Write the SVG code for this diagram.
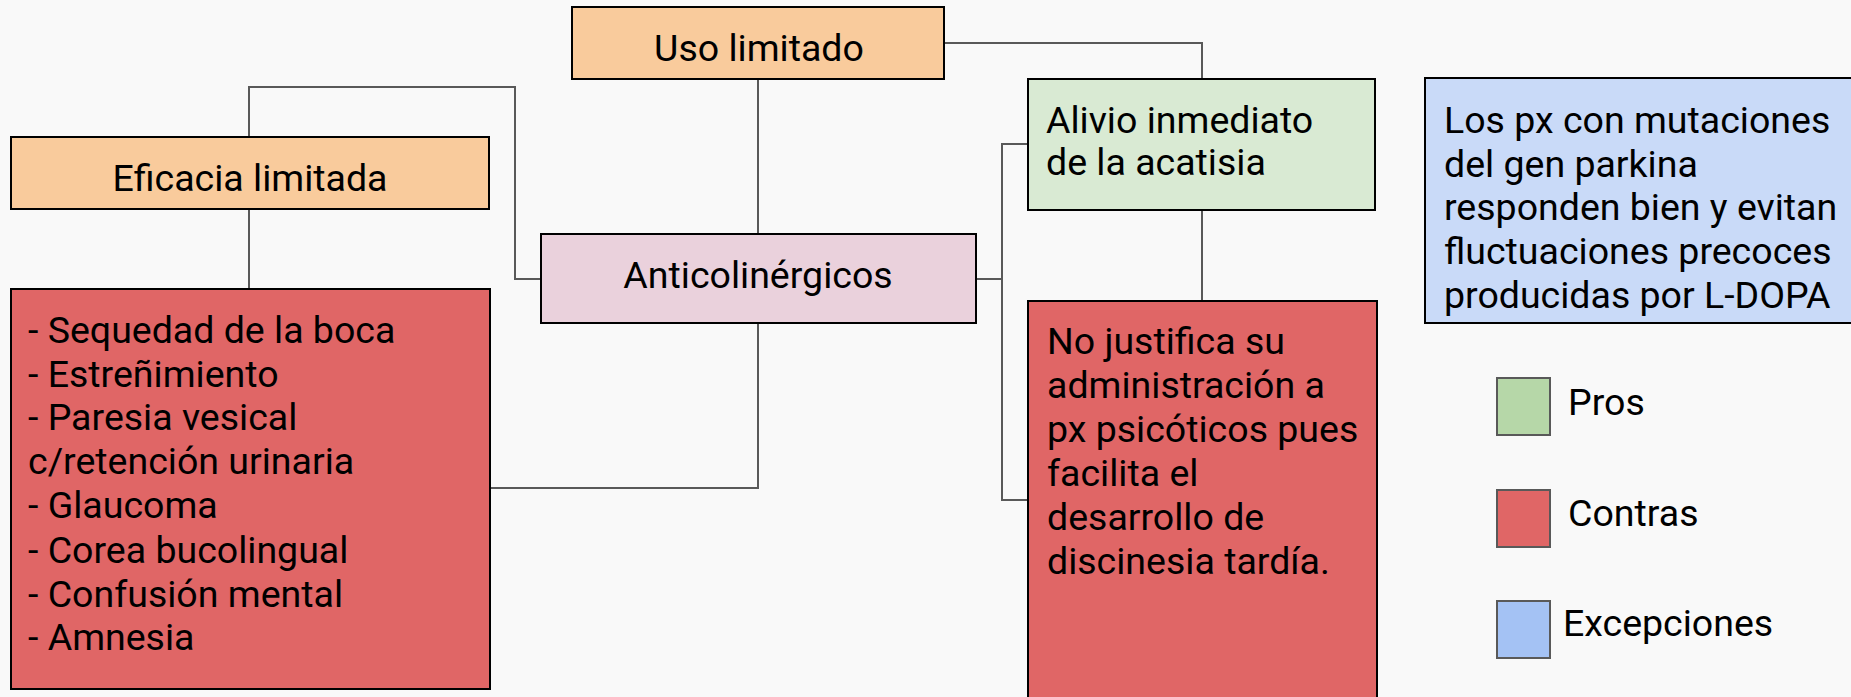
<svg xmlns="http://www.w3.org/2000/svg" width="1851" height="697" viewBox="0 0 1851 697">
<style>
.bg{fill:#f9f9f9}
.box{stroke:#000;stroke-width:2}
.peach{fill:#f9cb9c}
.pink{fill:#ead1dc}
.green{fill:#d9ead3}
.red{fill:#e06666}
.blue{fill:#c9daf8}
.conn{fill:none;stroke:#595959;stroke-width:2}
.leg{stroke:#595959;stroke-width:2}
text{font-family:Roboto,"Liberation Sans",sans-serif;font-size:37.5px;fill:#000}
.c{text-anchor:middle}
</style>
<rect class="bg" x="0" y="0" width="1851" height="697"/>
<g id="connectors">
<path class="conn" d="M758,79 V234"/>
<path class="conn" d="M944,43 H1202 V79"/>
<path class="conn" d="M249,137 V87 H515 V279 H541"/>
<path class="conn" d="M249,209 V289"/>
<path class="conn" d="M490,488 H758 V323"/>
<path class="conn" d="M976,279 H1002 V144 H1028"/>
<path class="conn" d="M1002,279 V500 H1028"/>
<path class="conn" d="M1202,210 V301"/>
</g>
<g id="uso-limitado">
<rect class="box peach" x="572" y="7" width="372" height="72"/>
<text class="c" x="759" y="61">Uso limitado</text>
</g>
<g id="eficacia-limitada">
<rect class="box peach" x="11" y="137" width="478" height="72"/>
<text class="c" x="250" y="191">Eficacia limitada</text>
</g>
<g id="anticolinergicos">
<rect class="box pink" x="541" y="234" width="435" height="89"/>
<text class="c" x="758" y="288">Anticolinérgicos</text>
</g>
<g id="alivio">
<rect class="box green" x="1028" y="79" width="347" height="131"/>
<text x="1046" y="133">Alivio inmediato</text>
<text x="1046" y="175">de la acatisia</text>
</g>
<g id="efectos-adversos">
<rect class="box red" x="11" y="289" width="479" height="400"/>
<text x="28" y="343">- Sequedad de la boca</text>
<text x="28" y="387">- Estreñimiento</text>
<text x="28" y="430">- Paresia vesical</text>
<text x="28" y="474">c/retención urinaria</text>
<text x="28" y="518">- Glaucoma</text>
<text x="28" y="563">- Corea bucolingual</text>
<text x="28" y="607">- Confusión mental</text>
<text x="28" y="650">- Amnesia</text>
</g>
<g id="no-justifica">
<rect class="box red" x="1028" y="301" width="349" height="410"/>
<text x="1047" y="354">No justifica su</text>
<text x="1047" y="398">administración a</text>
<text x="1047" y="442">px psicóticos pues</text>
<text x="1047" y="486">facilita el</text>
<text x="1047" y="530">desarrollo de</text>
<text x="1047" y="574">discinesia tardía.</text>
</g>
<g id="excepcion">
<rect class="box blue" x="1425" y="78" width="440" height="245"/>
<text x="1444" y="133">Los px con mutaciones</text>
<text x="1444" y="177">del gen parkina</text>
<text x="1444" y="220">responden bien y evitan</text>
<text x="1444" y="264">fluctuaciones precoces</text>
<text x="1444" y="308">producidas por L-DOPA</text>
</g>
<g id="legend-pros">
<rect class="leg" x="1497" y="378" width="53" height="57" fill="#b6d7a8"/>
<text x="1568" y="415">Pros</text>
</g>
<g id="legend-contras">
<rect class="leg" x="1497" y="490" width="53" height="57" fill="#e06666"/>
<text x="1568" y="526">Contras</text>
</g>
<g id="legend-excepciones">
<rect class="leg" x="1497" y="601" width="53" height="57" fill="#a4c2f4"/>
<text x="1563" y="636">Excepciones</text>
</g>
</svg>
